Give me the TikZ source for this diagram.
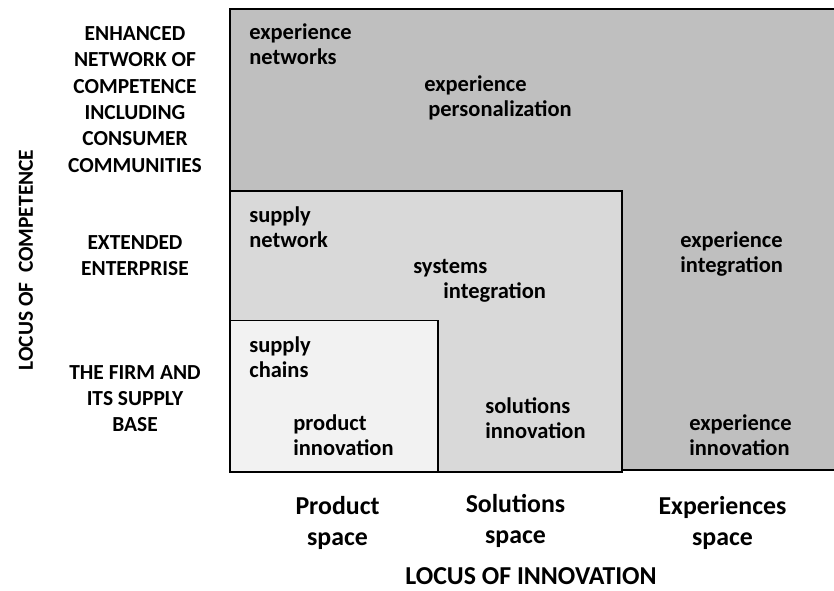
\documentclass[tikz,border=0pt]{standalone}
\usepackage{fontspec}
\setmainfont{Carlito}
\definecolor{outergray}{HTML}{BFBFBF}
\definecolor{midgray}{HTML}{D9D9D9}
\definecolor{innergray}{HTML}{F2F2F2}
\tikzset{
  zone/.style={anchor=west, inner sep=0pt, align=left, font=\bfseries\fontsize{12.8}{14.2}\selectfont},
  level/.style={inner sep=0pt, align=center, font=\bfseries\fontsize{12.2}{15}\selectfont},
  space/.style={inner sep=0pt, align=center, font=\bfseries\fontsize{14.7}{18.1}\selectfont},
  frame/.style={draw=black, line width=1.1pt}
}
\begin{document}
\begin{tikzpicture}
\useasboundingbox (0,0) rectangle (16.68,11.8);
% the three nested regions
\fill[outergray] (4.6,2.4) rectangle (16.9,11.62);
\draw[frame] (16.9,11.62) -- (4.6,11.62) -- (4.6,2.4) -- (16.9,2.4);
\draw[frame, fill=midgray] (4.6,2.36) rectangle (12.44,7.98);
\draw[frame, fill=innergray] (4.6,2.36) rectangle (8.76,5.39);

% texts inside the regions
\node[zone] (expnet) at (4.98,10.92) {experience\\networks};
\node[zone] (exppers) at (8.48,9.84) {experience\\\hspace*{0.08cm}personalization};
\node[zone] (supnet) at (4.98,7.25) {supply\\network};
\node[zone] (sysint) at (8.26,6.19) {systems\\\hspace*{0.6cm}integration};
\node[zone] (expint) at (13.6,6.72) {experience\\integration};
\node[zone] (supch) at (4.98,4.66) {supply\\chains};
\node[zone] (prodinn) at (5.86,3.09) {product\\innovation};
\node[zone] (solinn) at (9.7,3.43) {solutions\\innovation};
\node[zone] (expinn) at (13.78,3.09) {experience\\innovation};

% competence levels
\node[level] (enhanced) at (2.7,9.81) {ENHANCED\\NETWORK OF\\COMPETENCE\\INCLUDING\\CONSUMER\\COMMUNITIES};
\node[level] (extended) at (2.7,6.69) {EXTENDED\\ENTERPRISE};
\node[level] (firm) at (2.7,3.83) {THE FIRM AND\\ITS SUPPLY\\BASE};
\node[level, rotate=90] (competence) at (0.52,6.6) {LOCUS OF\ \ COMPETENCE};

% innovation spaces
\node[space] (product) at (6.75,1.34) {Product\\space};
\node[space] (solutions) at (10.31,1.38) {Solutions\\space};
\node[space] (experiences) at (14.45,1.34) {Experiences\\space};
\node[space] (innovation) at (10.62,0.28) {LOCUS OF INNOVATION};
\end{tikzpicture}
\end{document}
